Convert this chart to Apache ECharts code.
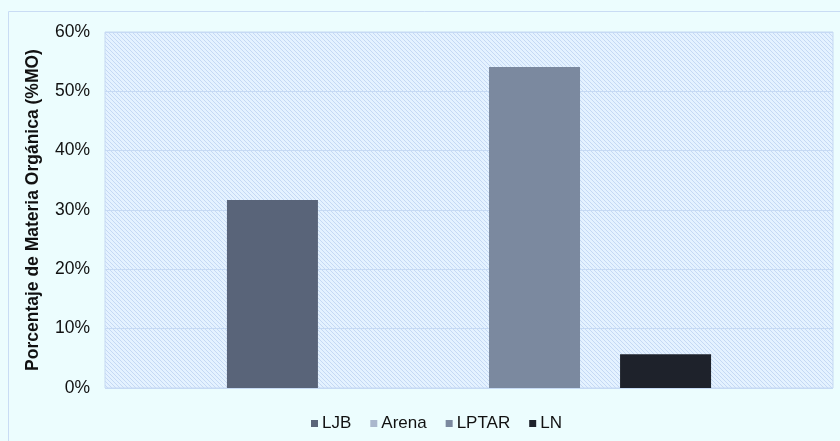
<!DOCTYPE html>
<html>
<head>
<meta charset="utf-8">
<script src="https://cdn.jsdelivr.net/npm/echarts@6/dist/echarts.min.js"></script>
<style>
  html, body { margin: 0; padding: 0; background: #ecfdfe; }
  #chart { width: 840px; height: 441px; }
</style>
</head>
<body>
<div id="chart"></div>
<script>
// Organic matter share per sample site (single group, one bar per site)
const categories = [''];
const seriesNames = ['LJB', 'Arena', 'LPTAR', 'LN'];
const valuesLJB = [31.7];
const valuesArena = [0];
const valuesLPTAR = [54.1];
const valuesLN = [5.7];
const yTicks = [0, 10, 20, 30, 40, 50, 60];

const seriesValues = [valuesLJB, valuesArena, valuesLPTAR, valuesLN];
const seriesColors = ['#596479', '#aab7cd', '#7b899f', '#1e222b'];

// diagonal hatch fill for the plot background
function hatch() {
  const c = document.createElement('canvas');
  c.width = 4; c.height = 4;
  const g = c.getContext('2d');
  g.fillStyle = '#e4f2ff';
  g.fillRect(0, 0, 4, 4);
  g.fillStyle = '#c5d9f4';
  for (let i = 0; i < 4; i++) g.fillRect(i, i, 1, 1);
  return c;
}

const chart = echarts.init(document.getElementById('chart'));
chart.setOption({
  backgroundColor: '#ecfdfe',
  animation: false,
  textStyle: { fontFamily: 'Liberation Sans, Arial, sans-serif' },
  graphic: [{
    type: 'rect',
    shape: { x: 8.5, y: 11.5, width: 900, height: 500 },
    style: { fill: 'none', stroke: '#c9dcf4', lineWidth: 1 },
    silent: true, z: -1
  }],
  grid: {
    left: 105, right: 7, top: 32, bottom: 53,
    show: true,
    backgroundColor: { image: hatch(), repeat: 'repeat' },
    borderColor: '#c6d9f2', borderWidth: 1
  },
  legend: {
    data: seriesNames,
    left: 306, top: 410,
    icon: 'rect', itemWidth: 7, itemHeight: 7, itemGap: 19,
    textStyle: { fontSize: 17, color: '#111', padding: [0, 0, 0, -1] }
  },
  xAxis: {
    type: 'category',
    data: categories,
    axisLine: { show: false },
    axisTick: { show: false },
    axisLabel: { show: false }
  },
  yAxis: {
    type: 'value',
    min: yTicks[0], max: yTicks[yTicks.length - 1], interval: 10,
    name: 'Porcentaje de Materia Orgánica (%MO)',
    nameLocation: 'middle', nameGap: 63,
    nameTextStyle: { fontSize: 17.5, fontWeight: 'bold', color: '#111' },
    axisLine: { show: false },
    axisTick: { show: false },
    axisLabel: { formatter: '{value}%', fontSize: 17.5, color: '#111', margin: 15 },
    splitLine: { lineStyle: { color: '#c6daf4', width: 1 } }
  },
  series: seriesNames.map((name, i) => ({
    name: name,
    type: 'bar',
    data: seriesValues[i],
    barWidth: 91,
    barGap: '44%',
    itemStyle: { color: seriesColors[i] }
  }))
});
</script>
</body>
</html>
